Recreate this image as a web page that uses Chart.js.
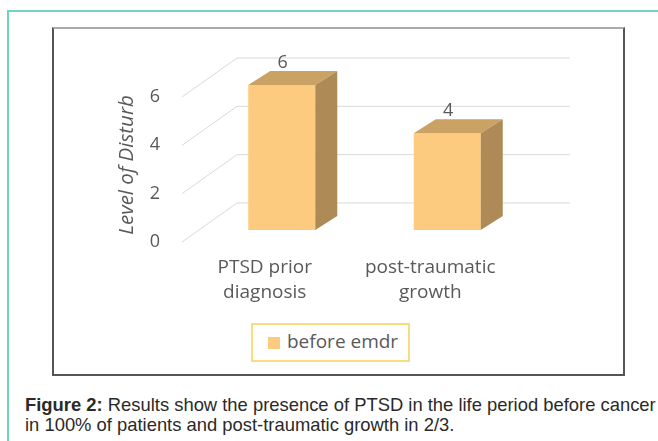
<!DOCTYPE html>
<html>
<head>
<meta charset="utf-8">
<script src="https://cdn.jsdelivr.net/npm/chart.js@4.4.0/dist/chart.umd.min.js"></script>
<style>
  body { margin: 0; background: #fff; width: 658px; height: 441px; overflow: hidden; position: relative; }
  #frame { position: absolute; left: 7px; top: 10px; width: 700px; height: 500px; border-left: 2px solid #72d2c4; border-top: 2px solid #72d2c4; }
  #box { position: absolute; left: 52px; top: 27px; width: 569px; height: 345px; border: 2px solid #555; border-top-color: #aaa; }
  #legend { position: absolute; left: 251px; top: 323px; width: 155px; height: 35px; border: 2px solid #f8dc80; font: 19px "Open Sans", sans-serif; color: #595959; }
  #legend .sw { position: absolute; left: 15px; top: 12px; width: 12px; height: 12px; background: #fdcb80; }
  #legend .tx { position: absolute; left: 34px; top: 3px; }
  #caption { position: absolute; left: 25px; top: 395px; font: 18.4px "Liberation Sans Narrow", "Liberation Sans", Arial, sans-serif; line-height: 20px; color: #2a2a2a; white-space: nowrap; }
  canvas { position: absolute; left: 0; top: 0; }
</style>
</head>
<body>
<div id="frame"></div>
<div id="box"></div>
<div id="legend"><div class="sw"></div><div class="tx">before emdr</div></div>
<div id="caption"><b>Figure 2:</b> Results show the presence of PTSD in the life period before cancer<br>in 100% of patients and post-traumatic growth in 2/3.</div>
<canvas id="chart" width="658" height="441"></canvas>
<script>
const categories = [["PTSD prior", "diagnosis"], ["post-traumatic", "growth"]];
const beforeEmdr = [6, 4];
const yTicks = [0, 2, 4, 6];

const textGray = "#595959";
const font = "'Open Sans', sans-serif";

// fake 3D: side/top faces, back wall gridlines, labels
const threeD = {
  id: "threeD",
  beforeDatasetsDraw(chart) {
    const ctx = chart.ctx, y = chart.scales.y;
    ctx.save();
    ctx.strokeStyle = "#d9d9d9";
    ctx.lineWidth = 1;
    yTicks.forEach(v => {
      const p = y.getPixelForValue(v);
      ctx.beginPath();
      ctx.moveTo(182, p + 12);
      ctx.lineTo(237, p - 27);
      ctx.lineTo(570, p - 27);
      ctx.stroke();
    });
    ctx.fillStyle = textGray;
    ctx.font = "18px " + font;
    ctx.textAlign = "center";
    ctx.textBaseline = "middle";
    yTicks.forEach(v => ctx.fillText(String(v), 155, y.getPixelForValue(v) + 12));
    ctx.save();
    ctx.translate(127, 165);
    ctx.rotate(-Math.PI / 2);
    ctx.font = "italic 20.5px " + font;
    ctx.fillText("Level of Disturb", 0, 0);
    ctx.restore();
    ctx.font = "19px " + font;
    const x = chart.scales.x;
    categories.forEach((lines, i) => {
      const cx = x.getPixelForValue(i) - 17;
      lines.forEach((t, j) => ctx.fillText(t, cx, 268 + j * 25));
    });
    ctx.restore();
  },
  afterDatasetsDraw(chart) {
    const ctx = chart.ctx;
    const meta = chart.getDatasetMeta(0);
    const dx = 22, dy = -14;
    ctx.save();
    meta.data.forEach((bar, i) => {
      const { x, y, base, width } = bar.getProps(["x", "y", "base", "width"], true);
      const l = x - width / 2, r = x + width / 2;
      ctx.fillStyle = "#c9a264";
      ctx.beginPath();
      ctx.moveTo(l, y); ctx.lineTo(l + dx, y + dy); ctx.lineTo(r + dx, y + dy); ctx.lineTo(r, y);
      ctx.closePath(); ctx.fill();
      ctx.fillStyle = "#ae8b56";
      ctx.beginPath();
      ctx.moveTo(r, y); ctx.lineTo(r + dx, y + dy); ctx.lineTo(r + dx, base + dy); ctx.lineTo(r, base);
      ctx.closePath(); ctx.fill();
      ctx.fillStyle = textGray;
      ctx.font = "18px " + font;
      ctx.textAlign = "center";
      ctx.textBaseline = "middle";
      ctx.fillText(String(beforeEmdr[i]), x + 1, y - 22);
    });
    ctx.restore();
  }
};

new Chart(document.getElementById("chart"), {
  type: "bar",
  data: {
    labels: categories,
    datasets: [{
      label: "before emdr",
      data: beforeEmdr,
      backgroundColor: "#fdcb80",
      barPercentage: 0.81,
      categoryPercentage: 0.5
    }]
  },
  options: {
    responsive: false,
    animation: false,
    layout: { padding: { left: 199, right: 128, top: 85, bottom: 211 } },
    plugins: { legend: { display: false }, tooltip: { enabled: false } },
    scales: {
      x: { display: false },
      y: { display: false, min: 0, max: 6 }
    }
  },
  plugins: [threeD]
});
</script>
</body>
</html>
